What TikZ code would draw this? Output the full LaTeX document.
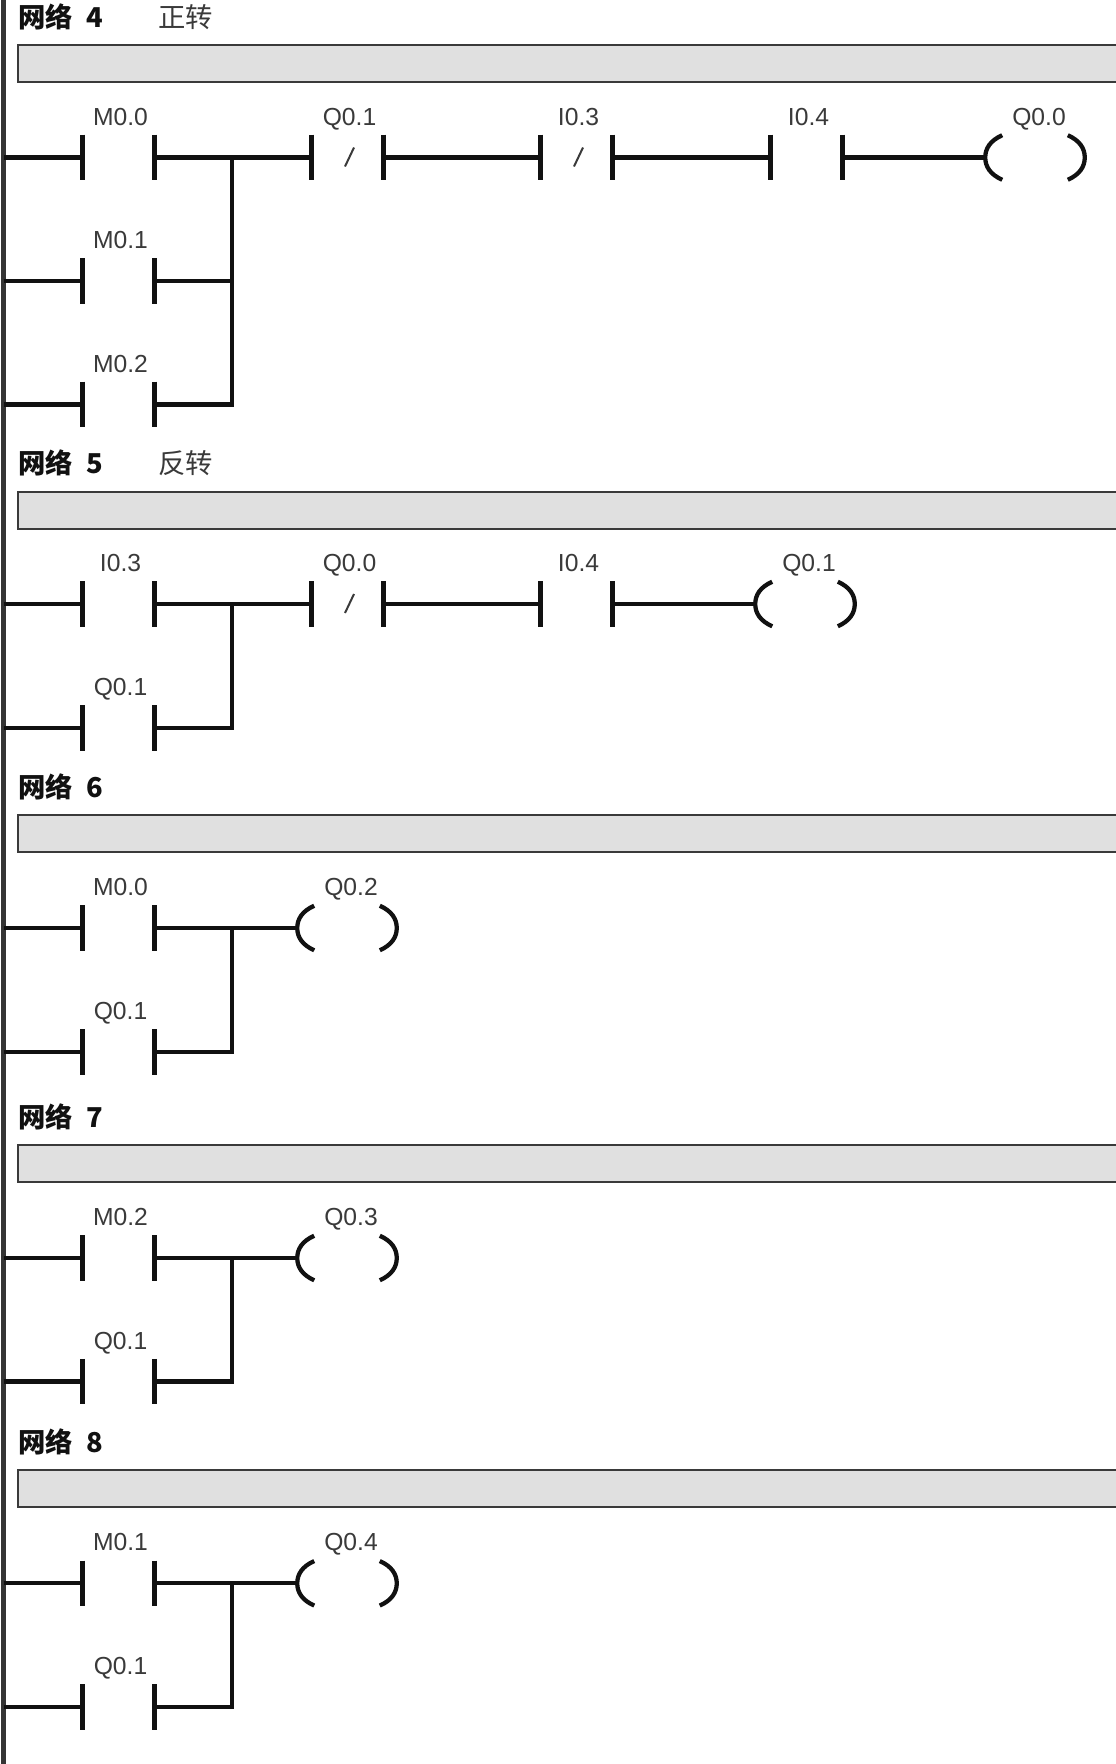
\documentclass[tikz,border=0pt]{standalone}
\usepackage{fontspec}
\setmainfont{Liberation Sans}
\newfontfamily\cjkf{Noto Sans CJK SC}
\definecolor{inkc}{HTML}{111111}
\definecolor{labc}{HTML}{3A3A3A}
\definecolor{barc}{HTML}{E0E0E0}
\tikzset{
 x=0.75pt,y=-0.75pt,
 wire/.style={draw=inkc,line width=3.1pt},
 plate/.style={draw=inkc,line width=3.5pt},
 slashline/.style={draw=labc,line width=1.5pt},
 coilarc/.style={draw=inkc,line width=3.2pt},
 contactbox/.style={rectangle,inner sep=0pt,minimum width=53.25pt,minimum height=33.75pt},
 coilbox/.style={rectangle,inner sep=0pt,minimum width=74.25pt,minimum height=33pt},
 lab/.style={text=labc,inner sep=0pt,anchor=base,font=\fontsize{18.5pt}{21pt}\selectfont},
 head/.style={text=inkc,inner sep=0pt,anchor=base west,font=\cjkf\bfseries\fontsize{20.5pt}{22pt}\selectfont},
 cmt/.style={text=labc,inner sep=0pt,anchor=base west,font=\cjkf\fontsize{20.5pt}{22pt}\selectfont},
 banner/.style={rectangle,anchor=north west,inner sep=0pt,draw=labc,line width=1.6pt,fill=barc,minimum width=825pt,minimum height=27.75pt},
}
\newcommand{\NOc}[4]{%
 \node[contactbox] (#1) at (#2+35.5,#3) {};
 \draw[plate] (#1.north west) -- (#1.south west) (#1.north east) -- (#1.south east);
 \node[lab] (#1-t) at (#2+37.5,#3-32.5) {#4};}
\newcommand{\NCc}[4]{%
 \NOc{#1}{#2}{#3}{#4}
 \draw[slashline] (#2+33,#3+9) -- (#2+42,#3-10);}
\newcommand{\Coil}[4]{%
 \node[coilbox] (#1) at (#2+50,#3) {};
 \draw[coilarc] ($(#1.north west)+(17,0)$) .. controls ($(#1.west)+(5,-17)$) and ($(#1.west)+(0,-9)$) .. (#1.west)
   .. controls ($(#1.west)+(0,9)$) and ($(#1.west)+(5,17)$) .. ($(#1.south west)+(17,0)$);
 \draw[coilarc] ($(#1.north east)+(-17,0)$) .. controls ($(#1.east)+(-5,-17)$) and ($(#1.east)+(0,-9)$) .. (#1.east)
   .. controls ($(#1.east)+(0,9)$) and ($(#1.east)+(-5,17)$) .. ($(#1.south east)+(-17,0)$);
 \node[lab] (#1-t) at (#2+54,#3-32.5) {#4};}
\usetikzlibrary{calc}
\begin{document}
\begin{tikzpicture}
\useasboundingbox (0,0) rectangle (1115,1764);
\fill[white] (0,0) rectangle (1115,1764);
\coordinate (railtop) at (3.5,0);
\coordinate (railbot) at (3.5,1764);
\draw[draw=inkc!85!white,line width=3.2pt] (railtop) -- (railbot);
% Network 4
\node[head] (h4) at (18,27) {网络\hspace{0.5em}4};
\node[cmt] (c4) at (158,27) {正转};
\node[banner] (b4) at (17,43.5) {};
\NOc{a1}{83}{157.5}{M0.0}
\NOc{a2}{83}{281}{M0.1}
\NOc{a3}{83}{404.5}{M0.2}
\NCc{a4}{312}{157.5}{Q0.1}
\NCc{a5}{541}{157.5}{I0.3}
\NOc{a6}{771}{157.5}{I0.4}
\Coil{a7}{985}{157.5}{Q0.0}
\coordinate (ja) at (232,157.5);
\draw[wire] (a1.west -| railtop) -- (a1.west);
\draw[wire] (a2.west -| railtop) -- (a2.west);
\draw[wire] (a3.west -| railtop) -- (a3.west);
\draw[wire] (a1.east) -- (a4.west);
\draw[wire] (a4.east) -- (a5.west);
\draw[wire] (a5.east) -- (a6.west);
\draw[wire] (a6.east) -- (a7.west);
\draw[wire] (a2.east) -- (a2.east -| ja);
\draw[wire] (a3.east) -| (ja);
% Network 5
\node[head] (h5) at (18,473) {网络\hspace{0.5em}5};
\node[cmt] (c5) at (158,473) {反转};
\node[banner] (b5) at (17,490.5) {};
\NOc{d1}{83}{604}{I0.3}
\NOc{d2}{83}{728}{Q0.1}
\NCc{d3}{312}{604}{Q0.0}
\NOc{d4}{541}{604}{I0.4}
\Coil{d5}{755}{604}{Q0.1}
\coordinate (jd) at (232,604);
\draw[wire] (d1.west -| railtop) -- (d1.west);
\draw[wire] (d2.west -| railtop) -- (d2.west);
\draw[wire] (d1.east) -- (d3.west);
\draw[wire] (d3.east) -- (d4.west);
\draw[wire] (d4.east) -- (d5.west);
\draw[wire] (d2.east) -| (jd);
% Network 6
\node[head] (h6) at (18,797) {网络\hspace{0.5em}6};
\node[banner] (b6) at (17,814) {};
\NOc{e1}{83}{928}{M0.0}
\NOc{e2}{83}{1052}{Q0.1}
\Coil{e3}{297}{928}{Q0.2}
\coordinate (je) at (232,928);
\draw[wire] (e1.west -| railtop) -- (e1.west);
\draw[wire] (e2.west -| railtop) -- (e2.west);
\draw[wire] (e1.east) -- (e3.west);
\draw[wire] (e2.east) -| (je);
% Network 7
\node[head] (h7) at (18,1127) {网络\hspace{0.5em}7};
\node[banner] (b7) at (17,1144) {};
\NOc{f1}{83}{1258}{M0.2}
\NOc{f2}{83}{1381.5}{Q0.1}
\Coil{f3}{297}{1258}{Q0.3}
\coordinate (jf) at (232,1258);
\draw[wire] (f1.west -| railtop) -- (f1.west);
\draw[wire] (f2.west -| railtop) -- (f2.west);
\draw[wire] (f1.east) -- (f3.west);
\draw[wire] (f2.east) -| (jf);
% Network 8
\node[head] (h8) at (18,1452) {网络\hspace{0.5em}8};
\node[banner] (b8) at (17,1469.3) {};
\NOc{g1}{83}{1583.3}{M0.1}
\NOc{g2}{83}{1707}{Q0.1}
\Coil{g3}{297}{1583.3}{Q0.4}
\coordinate (jg) at (232,1583.3);
\draw[wire] (g1.west -| railtop) -- (g1.west);
\draw[wire] (g2.west -| railtop) -- (g2.west);
\draw[wire] (g1.east) -- (g3.west);
\draw[wire] (g2.east) -| (jg);
\end{tikzpicture}
\end{document}
